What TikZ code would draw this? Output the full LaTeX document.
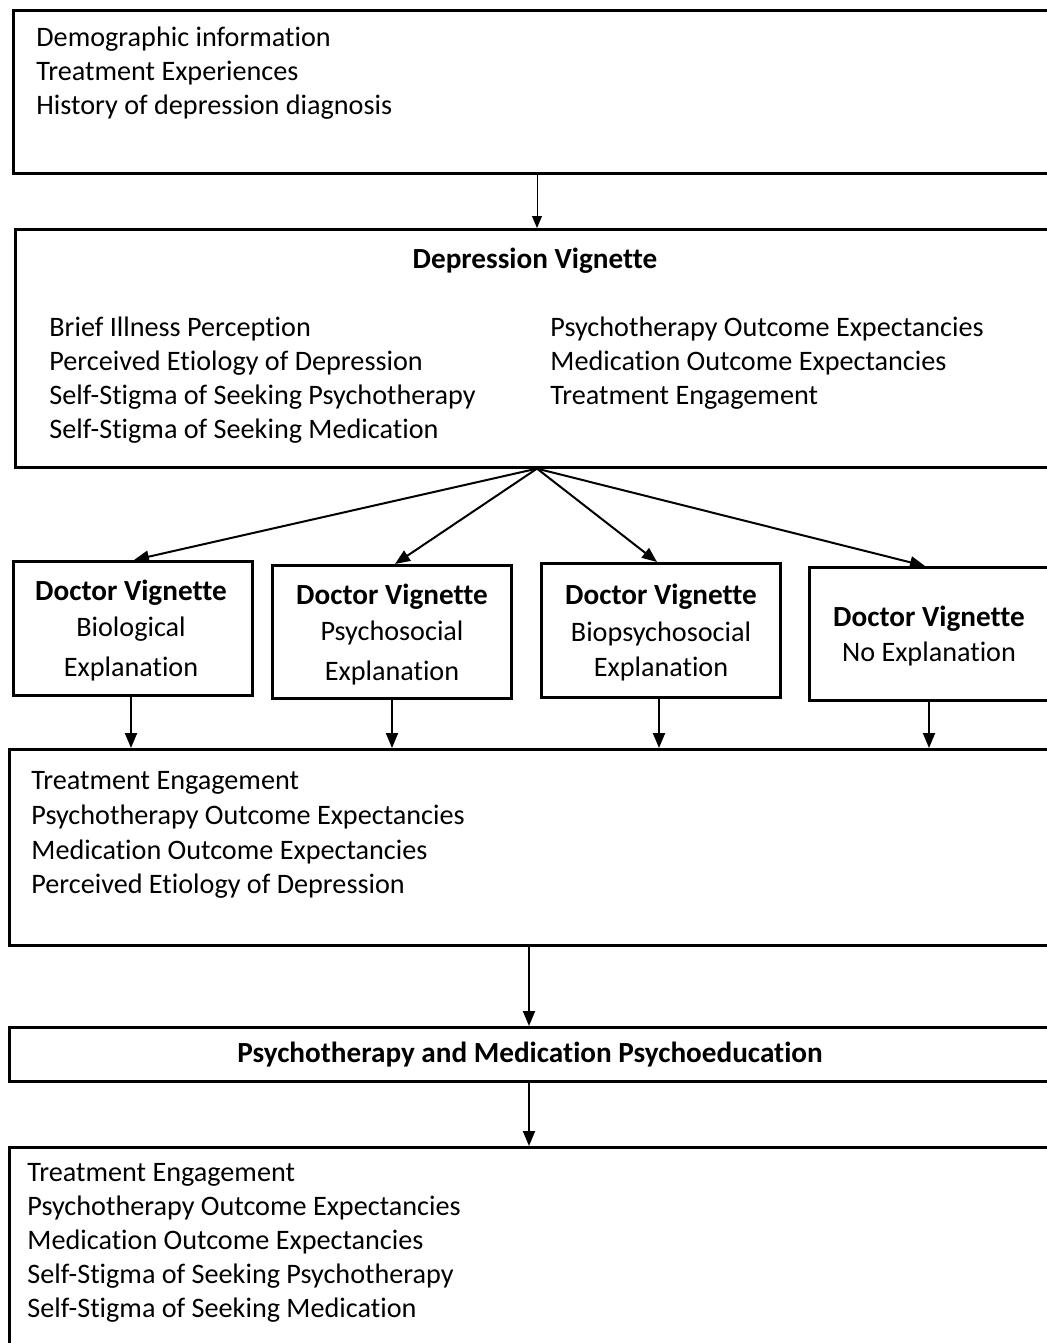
\documentclass[tikz,border=0pt]{standalone}
\usepackage{fontspec}
\setmainfont{Carlito}[Ligatures={NoCommon}]
\usetikzlibrary{arrows.meta}
\begin{document}
\begin{tikzpicture}[x=0.5pt,y=-0.5pt,
 box/.style={draw, line width=1.3pt, anchor=north west, inner sep=0pt},
 txt/.style={anchor=base west, inner sep=0pt, font=\fontsize{14.1}{17}\selectfont},
 ctxt/.style={anchor=base, inner sep=0pt, font=\fontsize{14.1}{17}\selectfont},
 btxt/.style={ctxt, font=\fontsize{14.6}{17}\selectfont\bfseries},
 arr/.style={line width=1pt, -{Triangle[length=7.5pt, width=6pt]}},
 thinarr/.style={line width=0.5pt, -{Triangle[length=6pt, width=5pt]}}]
\useasboundingbox (0,0) rectangle (1047,1343);
\clip (0,0) rectangle (1047,1343);
% boxes
\node[box, minimum width=524pt, minimum height=81.5pt] (b1) at (12,9) {};
\node[box, minimum width=523pt, minimum height=119pt] (b2) at (14,228) {};
\node[box, minimum width=119.5pt, minimum height=67pt] (dA) at (12,560) {};
\node[box, minimum width=119.5pt, minimum height=66.5pt] (dB) at (271,564) {};
\node[box, minimum width=119.5pt, minimum height=67pt] (dC) at (540,562) {};
\node[box, minimum width=126pt, minimum height=66.5pt] (dD) at (808,566) {};
\node[box, minimum width=526pt, minimum height=98pt] (b3) at (8,748) {};
\node[box, minimum width=526pt, minimum height=27pt] (b4) at (8,1026) {};
\node[box, minimum width=526pt, minimum height=125pt] (b5) at (8,1146) {};
% texts
\node[txt] (t11) at (36,47) {Demographic information};
\node[txt] (t12) at (36,81) {Treatment Experiences};
\node[txt] (t13) at (36,115) {History of depression diagnosis};
\node[btxt] (t20) at (535,268) {Depression Vignette};
\node[txt] (t21) at (49,336) {Brief Illness Perception};
\node[txt] (t22) at (49,370) {Perceived Etiology of Depression};
\node[txt] (t23) at (49,404) {Self-Stigma of Seeking Psychotherapy};
\node[txt] (t24) at (49,438) {Self-Stigma of Seeking Medication};
\node[txt] (t25) at (550,336) {Psychotherapy Outcome Expectancies};
\node[txt] (t26) at (550,370) {Medication Outcome Expectancies};
\node[txt] (t27) at (550,404) {Treatment Engagement};
\node[btxt] (tA1) at (131,600) {Doctor Vignette};
\node[ctxt] (tA2) at (131,636) {Biological};
\node[ctxt] (tA3) at (131,676) {Explanation};
\node[btxt] (tB1) at (392,604) {Doctor Vignette};
\node[ctxt] (tB2) at (392,640) {Psychosocial};
\node[ctxt] (tB3) at (392,680) {Explanation};
\node[btxt] (tC1) at (661,604) {Doctor Vignette};
\node[ctxt] (tC2) at (661,641) {Biopsychosocial};
\node[ctxt] (tC3) at (661,676) {Explanation};
\node[btxt] (tD1) at (929,626) {Doctor Vignette};
\node[ctxt] (tD2) at (929,661) {No Explanation};
\node[txt] (t31) at (31,789) {Treatment Engagement};
\node[txt] (t32) at (31,824) {Psychotherapy Outcome Expectancies};
\node[txt] (t33) at (31,859) {Medication Outcome Expectancies};
\node[txt] (t34) at (31,893) {Perceived Etiology of Depression};
\node[btxt] (t40) at (530,1062) {Psychotherapy and Medication Psychoeducation};
\node[txt] (t51) at (27,1181) {Treatment Engagement};
\node[txt] (t52) at (27,1215) {Psychotherapy Outcome Expectancies};
\node[txt] (t53) at (27,1249) {Medication Outcome Expectancies};
\node[txt] (t54) at (27,1283) {Self-Stigma of Seeking Psychotherapy};
\node[txt] (t55) at (27,1317) {Self-Stigma of Seeking Medication};
% connector x positions
\coordinate (x1) at (537,0);
\coordinate (xA) at (134,0);
\coordinate (xB) at (395,0);
\coordinate (xC) at (657,0);
\coordinate (xD) at (925,0);
\coordinate (xAd) at (131,0);
\coordinate (xBd) at (392,0);
\coordinate (xCd) at (659,0);
\coordinate (xDd) at (929,0);
\coordinate (x3) at (529,0);
% connectors
\draw[thinarr] (b1.south -| x1) -- (b2.north -| x1);
\coordinate (fan) at (b2.south -| x1);
\draw[arr] (fan) -- (dA.north -| xA);
\draw[arr] (fan) -- (dB.north -| xB);
\draw[arr] (fan) -- (dC.north -| xC);
\draw[arr] (fan) -- (dD.north -| xD);
\draw[arr] (dA.south -| xAd) -- (b3.north -| xAd);
\draw[arr] (dB.south -| xBd) -- (b3.north -| xBd);
\draw[arr] (dC.south -| xCd) -- (b3.north -| xCd);
\draw[arr] (dD.south -| xDd) -- (b3.north -| xDd);
\draw[arr] (b3.south -| x3) -- (b4.north -| x3);
\draw[arr] (b4.south -| x3) -- (b5.north -| x3);
\end{tikzpicture}
\end{document}
